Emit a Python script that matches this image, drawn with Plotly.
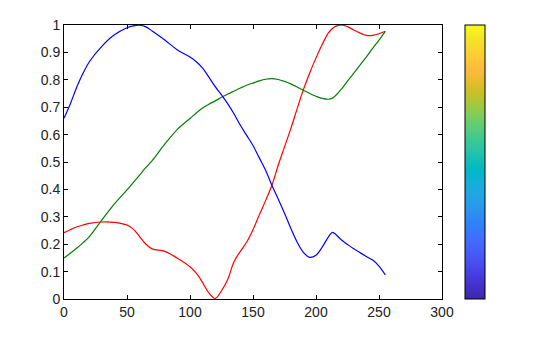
import plotly.graph_objects as go

# index positions (0..255) at which the channel values were read
idx = [0, 5, 10, 15, 20, 30, 40, 50, 55, 60, 65, 70, 80, 90, 100, 105, 110, 115,
       120, 125, 130, 135, 140, 145, 150, 155, 160, 165, 170, 175, 180, 185, 190,
       195, 200, 205, 210, 213, 215, 220, 225, 230, 240, 245, 250, 255]

red = [0.242, 0.253, 0.263, 0.270, 0.276, 0.281, 0.280, 0.270, 0.255, 0.228, 0.200,
       0.183, 0.174, 0.149, 0.118, 0.094, 0.060, 0.022, 0.002, 0.030, 0.072, 0.137,
       0.174, 0.208, 0.253, 0.307, 0.359, 0.415, 0.488, 0.555, 0.622, 0.694, 0.764,
       0.825, 0.880, 0.930, 0.972, 0.987, 0.994, 1.000, 0.994, 0.982, 0.962, 0.962,
       0.968, 0.977]

green = [0.150, 0.167, 0.185, 0.205, 0.227, 0.288, 0.347, 0.398, 0.425, 0.452, 0.480,
         0.505, 0.565, 0.619, 0.659, 0.679, 0.697, 0.711, 0.723, 0.736, 0.748, 0.759,
         0.770, 0.780, 0.788, 0.796, 0.802, 0.804, 0.801, 0.794, 0.785, 0.774, 0.762,
         0.750, 0.740, 0.732, 0.729, 0.733, 0.740, 0.765, 0.795, 0.824, 0.884, 0.915,
         0.945, 0.977]

blue = [0.660, 0.712, 0.772, 0.823, 0.865, 0.922, 0.964, 0.990, 0.997, 0.999, 0.993,
        0.978, 0.945, 0.909, 0.883, 0.866, 0.843, 0.810, 0.775, 0.745, 0.712, 0.675,
        0.634, 0.597, 0.560, 0.515, 0.470, 0.415, 0.365, 0.313, 0.258, 0.208, 0.170,
        0.152, 0.160, 0.190, 0.228, 0.243, 0.238, 0.216, 0.199, 0.183, 0.155, 0.142,
        0.120, 0.088]

x_ticks = [0, 50, 100, 150, 200, 250, 300]
y_ticks = [0, 0.1, 0.2, 0.3, 0.4, 0.5, 0.6, 0.7, 0.8, 0.9, 1]

# colour scale built from the same channel values
colorscale = [[i / 255, "rgb({},{},{})".format(round(r * 255), round(g * 255), round(b * 255))]
              for i, r, g, b in zip(idx, red, green, blue)]

fig = go.Figure()
for vals, col in [(red, "#ff0000"), (green, "#008000"), (blue, "#0000ff")]:
    fig.add_trace(go.Scatter(x=idx, y=vals, mode="lines",
                             line=dict(color=col, width=1.2, shape="spline", smoothing=1.0),
                             showlegend=False, hoverinfo="skip"))

# invisible trace carrying the colour bar
fig.add_trace(go.Scatter(
    x=[None], y=[None], mode="markers", showlegend=False,
    marker=dict(color=[0], cmin=0, cmax=1, colorscale=colorscale, showscale=True,
                colorbar=dict(x=1.0616, xanchor="left", xpad=0, ypad=0,
                              thickness=20, thicknessmode="pixels",
                              len=1, lenmode="fraction", y=0.5, yanchor="middle",
                              outlinecolor="black", outlinewidth=1,
                              showticklabels=False, ticks=""))))

axis_common = dict(showline=True, linecolor="black", linewidth=1, mirror="ticks",
                   ticks="inside", ticklen=4, tickcolor="black", showgrid=False,
                   zeroline=False, tickfont=dict(family="Liberation Sans, Arial", size=14, color="#222"))

fig.update_xaxes(range=[0, 300], tickvals=x_ticks, ticktext=[str(v) for v in x_ticks], **axis_common)
fig.update_yaxes(range=[0, 1], tickvals=y_ticks, ticktext=[("%g" % v) for v in y_ticks], **axis_common)

fig.update_layout(width=560, height=337, margin=dict(l=64, r=118, t=25, b=38),
                  plot_bgcolor="white", paper_bgcolor="white")

fig.write_html("out.html")
